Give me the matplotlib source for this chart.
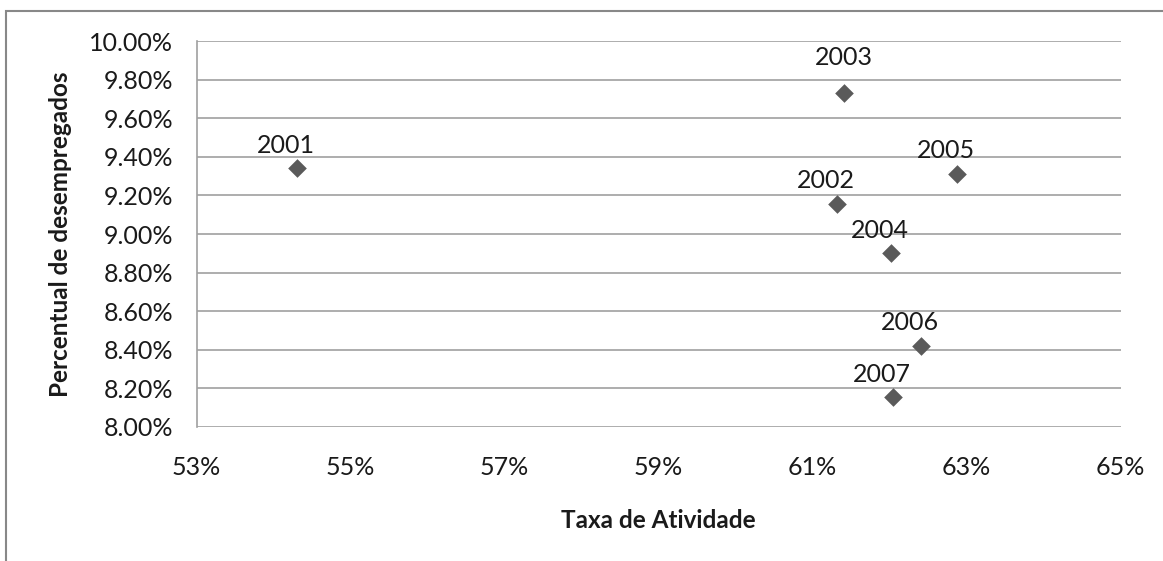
import matplotlib
matplotlib.use("Agg")
import matplotlib.pyplot as plt
from matplotlib.ticker import FuncFormatter, MultipleLocator
from matplotlib.patches import Rectangle

years = ['2001', '2002', '2003', '2004', '2005', '2006', '2007']
taxa_atividade = [54.31, 61.32, 61.41, 62.02, 62.88, 62.41, 62.04]
desempregados = [9.34, 9.157, 9.73, 8.90, 9.313, 8.42, 8.154]
x_ticks = [53, 55, 57, 59, 61, 63, 65]

W, H, DPI = 1163, 561, 100
plt.rcParams['font.family'] = ['Lato', 'DejaVu Sans']

fig = plt.figure(figsize=(W / DPI, H / DPI), dpi=DPI)
fig.patch.set_facecolor('white')

# outer chart border (top and left visible)
fig.add_artist(Rectangle((6 / W, -0.1), 1.2, (H - 11) / H + 0.1, transform=fig.transFigure,
                         fill=False, edgecolor='#888888', linewidth=1.5))

left, right = 196.5 / W, 1120.7 / W
top, bottom = 1 - 41.3 / H, 1 - 426.7 / H
ax = fig.add_axes([left, bottom, right - left, top - bottom])

ax.set_xlim(53, 65)
ax.set_ylim(8.0, 10.0)
ax.set_xticks(x_ticks)
ax.yaxis.set_major_locator(MultipleLocator(0.2))
ax.xaxis.set_major_formatter(FuncFormatter(lambda v, p: f'{v:.0f}%'))
ax.yaxis.set_major_formatter(FuncFormatter(lambda v, p: f'{v:.2f}%'))

ax.grid(axis='y', color='#a0a0a0', linewidth=1.2)
ax.set_axisbelow(True)
for s in ['top', 'right', 'bottom']:
    ax.spines[s].set_visible(False)
ax.spines['left'].set_color('#a0a0a0')
ax.spines['left'].set_linewidth(1.2)
ax.tick_params(axis='both', length=0, labelsize=18, colors='#1a1a1a')
ax.tick_params(axis='y', pad=17)
ax.tick_params(axis='x', pad=21)

ax.scatter(taxa_atividade, desempregados, marker='D', s=9.5 ** 2, color='#5a5a5a', zorder=3,
           linewidths=0)

for yr, x, y in zip(years, taxa_atividade, desempregados):
    off = (0, 26) if yr == '2003' else (-8, 16.5)
    ax.annotate(yr, (x, y), xytext=off, textcoords='offset points', ha='center', va='center',
                fontsize=18, color='#1a1a1a')

ax.set_xlabel('Taxa de Atividade', fontsize=17.5, fontweight='bold', labelpad=22, color='#1a1a1a')
ax.set_ylabel('Percentual de desempregados', fontsize=17.5, fontweight='bold', labelpad=12,
              color='#1a1a1a')

fig.savefig('out.png', dpi=DPI)
